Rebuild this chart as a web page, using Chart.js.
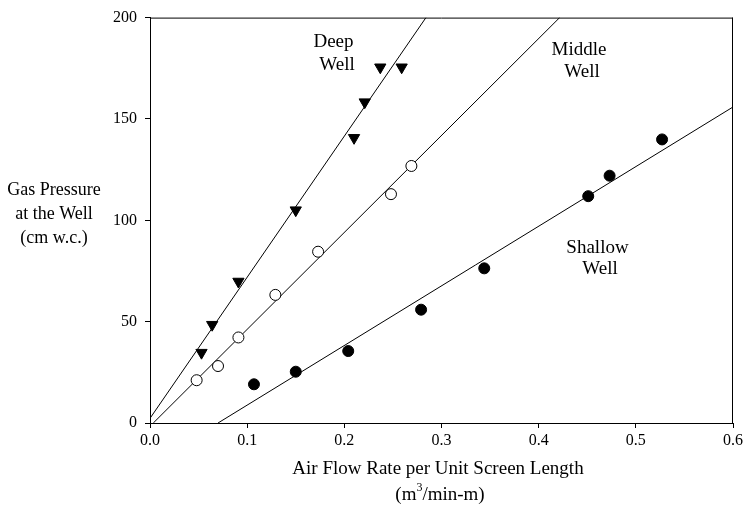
<!DOCTYPE html>
<html><head><meta charset="utf-8">
<script src="https://cdn.jsdelivr.net/npm/chart.js@4/dist/chart.umd.min.js"></script>
<style>html,body{margin:0;padding:0;background:#fff}#wrap{width:746px;height:507px}</style>
</head><body><div id="wrap"><canvas id="c" width="746" height="507"></canvas></div>
<script>
// Data
const deepX = [0.053, 0.064, 0.091, 0.150, 0.210, 0.221, 0.237, 0.259];
const deepY = [34.7, 48.5, 69.8, 105.0, 140.7, 158.3, 175.5, 175.5];
const middleX = [0.048, 0.070, 0.091, 0.129, 0.173, 0.248, 0.269];
const middleY = [21.1, 28.1, 42.2, 63.2, 84.5, 112.9, 126.8];
const shallowX = [0.107, 0.150, 0.204, 0.279, 0.344, 0.451, 0.473, 0.527];
const shallowY = [19.1, 25.3, 35.5, 55.9, 76.3, 111.9, 122.0, 139.9];
// Regression line end points
const deepFitX = [0.0, 0.284];
const deepFitY = [2.3, 200];
const middleFitX = [0.0034, 0.4216];
const middleFitY = [0, 200];
const shallowFitX = [0.070, 0.600];
const shallowFitY = [0, 155.9];
const xTicks = [0.0, 0.1, 0.2, 0.3, 0.4, 0.5, 0.6];
const yTicks = [0, 50, 100, 150, 200];
const seriesLabels = [["Deep", "Well"], ["Middle", "Well"], ["Shallow", "Well"]];
const yTitle = ["Gas Pressure", "at the Well", "(cm w.c.)"];
const xTitle = "Air Flow Rate per Unit Screen Length";

const pts = (xs, ys) => xs.map((x, i) => ({x: x, y: ys[i]}));
const FONT = "'Liberation Serif', 'Times New Roman', serif";

const lineDs = (xs, ys) => ({type: 'line', data: pts(xs, ys), borderColor: '#000', borderWidth: 1,
  pointRadius: 0, fill: false, showLine: true, order: 2});

const textPlugin = {
  id: 'texts',
  afterDraw(chart) {
    const ctx = chart.ctx, a = chart.chartArea;
    ctx.save();
    ctx.strokeStyle = '#000'; ctx.lineWidth = 1;
    ctx.beginPath();
    ctx.moveTo(a.left, a.top + 0.5); ctx.lineTo(a.right, a.top + 0.5);
    ctx.moveTo(a.right - 0.5, a.top); ctx.lineTo(a.right - 0.5, a.bottom);
    ctx.stroke();
    ctx.fillStyle = '#000';
    ctx.font = '19px ' + FONT;
    ctx.textAlign = 'center'; ctx.textBaseline = 'middle';
    const pos = [[333.5, 42, 337, 65], [579, 50, 582, 72], [597.5, 248, 600, 269]];
    seriesLabels.forEach((l, i) => {
      const p = pos[i];
      ctx.fillText(l[0], p[0], p[1]);
      ctx.fillText(l[1], p[2], p[3]);
    });
    ctx.font = '18px ' + FONT;
    ctx.fillText(yTitle[0], 54, 190);
    ctx.fillText(yTitle[1], 54, 214);
    ctx.fillText(yTitle[2], 54, 238);
    ctx.font = '19px ' + FONT;
    ctx.fillText(xTitle, 438, 469);
    // (m3/min-m) with superscript
    const cx = 440, cy = 495;
    const p1 = '(m', sup = '3', p2 = '/min-m)';
    ctx.font = '19px ' + FONT;
    const w1 = ctx.measureText(p1).width, w3 = ctx.measureText(p2).width;
    ctx.font = '12px ' + FONT;
    const w2 = ctx.measureText(sup).width;
    const total = w1 + w2 + w3;
    let sx = cx - total / 2;
    ctx.textAlign = 'left';
    ctx.font = '19px ' + FONT;
    ctx.fillText(p1, sx, cy);
    ctx.font = '12px ' + FONT;
    ctx.fillText(sup, sx + w1, cy - 7);
    ctx.font = '19px ' + FONT;
    ctx.fillText(p2, sx + w1 + w2, cy);
    ctx.restore();
  }
};

new Chart(document.getElementById('c'), {
  type: 'scatter',
  data: {
    datasets: [
      {data: pts(deepX, deepY), pointStyle: 'triangle', rotation: 180, pointRadius: 6.5,
       backgroundColor: '#000', borderColor: '#000', borderWidth: 1, order: 1},
      {data: pts(middleX, middleY), pointStyle: 'circle', pointRadius: 5.5,
       backgroundColor: '#fff', borderColor: '#000', borderWidth: 1, order: 1},
      {data: pts(shallowX, shallowY), pointStyle: 'circle', pointRadius: 5.5,
       backgroundColor: '#000', borderColor: '#000', borderWidth: 1, order: 1},
      lineDs(deepFitX, deepFitY),
      lineDs(middleFitX, middleFitY),
      lineDs(shallowFitX, shallowFitY)
    ]
  },
  options: {
    responsive: false, animation: false, devicePixelRatio: 1,
    layout: {padding: {left: 0, right: 8, top: 15, bottom: 0}},
    plugins: {legend: {display: false}, tooltip: {enabled: false}},
    scales: {
      x: {
        type: 'linear', min: 0, max: 0.6,
        afterBuildTicks: s => { s.ticks = xTicks.map(v => ({value: v})); },
        afterFit: s => { s.height = 84; },
        grid: {display: true, drawOnChartArea: false, drawTicks: true, tickLength: 5, color: '#000'},
        border: {display: true, color: '#000', width: 1},
        ticks: {color: '#000', font: {family: FONT, size: 16}, padding: 3, maxRotation: 0,
          callback: v => v.toFixed(1)}
      },
      y: {
        type: 'linear', min: 0, max: 200,
        afterBuildTicks: s => { s.ticks = yTicks.map(v => ({value: v})); },
        afterFit: s => { s.width = 150; },
        grid: {display: true, drawOnChartArea: false, drawTicks: true, tickLength: 5, color: '#000'},
        border: {display: true, color: '#000', width: 1},
        ticks: {color: '#000', font: {family: FONT, size: 16}, padding: 8}
      }
    }
  },
  plugins: [textPlugin]
});
</script></body></html>
